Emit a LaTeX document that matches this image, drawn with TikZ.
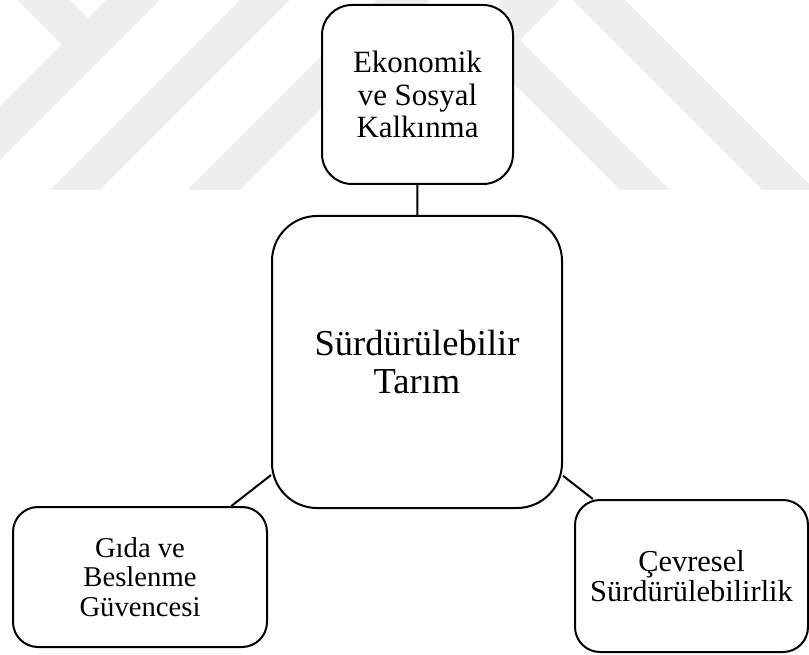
\documentclass[tikz,border=0pt]{standalone}
\usepackage{fontspec}
\setmainfont{Liberation Serif}
\definecolor{wmgray}{RGB}{238,238,238}
\tikzset{
  box/.style={draw, line width=1.5pt, fill=white, align=center, inner sep=0pt, rounded corners=#1},
  box/.default=18.75pt,
  link/.style={draw, line width=1.5pt},
  smalltext/.style={font=\fontsize{23pt}{24pt}\selectfont},
  bigtext/.style={font=\fontsize{27.4pt}{28.5pt}\selectfont}
}
\begin{document}
\begin{tikzpicture}[x=0.75pt, y=-0.75pt]
    \useasboundingbox (0,0) rectangle (809,655);

    % faint stripes in the background
    \fill[wmgray] (17,0) -- (70,0) -- (88,18) -- (106,0) -- (160,0) -- (0,160) -- (0,106) -- (61.5,44.5) -- cycle;
    \fill[wmgray] (50,190) -- (100,190) -- (290,0) -- (240,0) -- cycle;
    \fill[wmgray] (187,190) -- (240,190) -- (430,0) -- (377,0) -- cycle;
    \fill[wmgray] (500,0) -- (560,0) -- (520,40) -- (670,190) -- (620,190) -- (500,70) -- cycle;
    \fill[wmgray] (572,0) -- (625,0) -- (809,184) -- (809,190) -- (762,190) -- cycle;

    \node[box=22.5pt, smalltext, font=\fontsize{23.2pt}{24.6pt}\selectfont,
          minimum width=143.25pt, minimum height=134.25pt] (eko) at (417.5, 94.5)
          {Ekonomik\\ve Sosyal\\Kalkınma};
    \node[box=33.75pt, bigtext, minimum width=217.5pt, minimum height=219pt] (tarim) at (417, 362)
          {Sürdürülebilir\\Tarım};
    \node[box, font=\fontsize{21.5pt}{22.2pt}\selectfont,
          minimum width=190.5pt, minimum height=105pt] (gida) at (140, 577)
          {Gıda ve\\Beslenme\\Güvencesi};
    \node[box, font=\fontsize{22.8pt}{22.8pt}\selectfont,
          minimum width=174.75pt, minimum height=114pt] (cevre) at (691.5, 576)
          {Çevresel\\Sürdürülebilirlik};

    \draw[link] (eko) -- (tarim);
    \draw[link] (tarim) -- (gida);
    \draw[link] (tarim) -- (cevre);
\end{tikzpicture}
\end{document}
